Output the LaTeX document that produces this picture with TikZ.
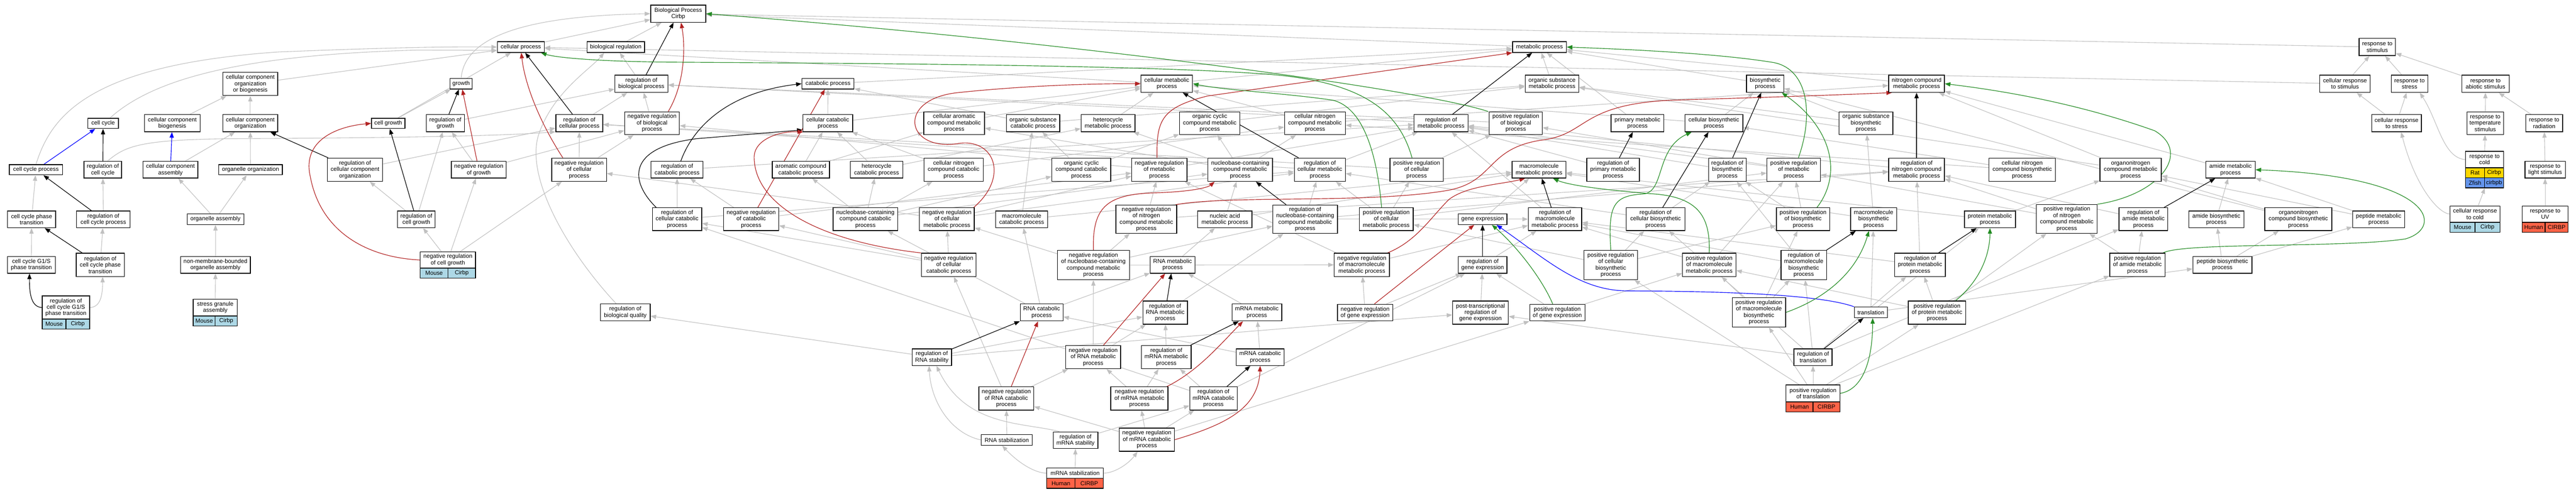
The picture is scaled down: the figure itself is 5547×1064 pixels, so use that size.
\documentclass[tikz,border=0pt]{standalone}
\usepackage{fontspec}
\setmainfont{Liberation Sans}
\usetikzlibrary{arrows.meta}
\definecolor{edgegray}{HTML}{C0C0C0}
\definecolor{goRed}{HTML}{B22222}
\definecolor{goGreen}{HTML}{228B22}
\definecolor{goBlue}{HTML}{0000FF}
\definecolor{annBlue}{HTML}{ADD8E6}
\definecolor{annRed}{HTML}{FF6347}
\definecolor{annGold}{HTML}{FFD700}
\definecolor{annCorn}{HTML}{6495ED}
\newcommand\gofont{\fontsize{12.5pt}{13.8pt}\selectfont}
\pgfdeclarelayer{edges}
\pgfsetlayers{edges,main}
\tikzset{
  gobox/.style={draw=black, line width=1.5pt, fill=white, align=center, inner sep=1pt, font=\gofont},
  annbox/.style={draw=black, line width=1.5pt, inner sep=1pt, font=\gofont, minimum height=21.5},
  isaE/.style={draw=edgegray, line width=1.2pt, -{Triangle[length=12pt,width=9pt]}},
  regE/.style={draw=black, line width=1.3pt, -{Triangle[length=12pt,width=9pt]}},
  nregE/.style={draw=goRed, line width=1.3pt, -{Triangle[length=12pt,width=9pt]}},
  pregE/.style={draw=goGreen, line width=1.3pt, -{Triangle[length=12pt,width=9pt]}},
  poE/.style={draw=goBlue, line width=1.3pt, -{Triangle[length=12pt,width=9pt]}},
}
\newcommand\gonode[6]{\node[gobox,minimum width=#4,minimum height=#5] (#1) at (#2,#3) {#6};}
\newcommand\goann[7]{%
  \node[annbox,fill=#5,minimum width={#4/2}] (#1l) at ({#2-#4/4},#3) {#6};
  \node[annbox,fill=#5,minimum width={#4/2}] (#1r) at ({#2+#4/4},#3) {#7};}
\newcommand\isaedge[2]{\draw[isaE] (#1) -- (#2);}
\newcommand\gedge[3]{\draw[#1] (#2) -- (#3);}
\begin{document}
\begin{tikzpicture}[x=1pt,y=-1pt]
\useasboundingbox (0,0) rectangle (5547,1064);
% ---------------- nodes ----------------
\gonode{BP}{1460.5}{29.5}{119}{37}{Biological Process\\Cirbp}
\gonode{cp}{1121.5}{101.5}{101}{23}{cellular process}
\gonode{br}{1326}{101.5}{124}{23}{biological regulation}
\gonode{mp}{3315}{101.5}{116}{23}{metabolic process}
\gonode{rs}{5119}{101.5}{78}{37}{response to\\stimulus}
% row 2
\gonode{ccob}{539}{181}{118}{50}{cellular component\\organization\\or biogenesis}
\gonode{gr}{993}{180.5}{48}{23}{growth}
\gonode{rbp}{1381}{180.5}{114}{37}{regulation of\\biological process}
\gonode{cat}{1783}{180.5}{112}{23}{catabolic process}
\gonode{cmp}{2512.5}{180.5}{111}{37}{cellular metabolic\\process}
\gonode{osmp}{3342}{180.5}{116}{37}{organic substance\\metabolic process}
\gonode{bio}{3801}{180.5}{80}{37}{biosynthetic\\process}
\gonode{ncmp}{4127}{180.5}{120}{37}{nitrogen compound\\metabolic process}
\gonode{crs}{5049.5}{180.5}{109}{37}{cellular response\\to stimulus}
\gonode{rst}{5188.5}{180.5}{79}{37}{response to\\stress}
\gonode{ras}{5352}{180.5}{102}{37}{response to\\abiotic stimulus}
% row 3
\gonode{cc}{222}{266}{66}{22}{cell cycle}
\gonode{ccb}{371}{265.5}{120}{37}{cellular component\\biogenesis}
\gonode{cco}{539}{265.5}{118}{37}{cellular component\\organization}
\gonode{cg}{836}{266}{72}{22}{cell growth}
\gonode{rg}{959}{265.5}{82}{37}{regulation of\\growth}
\gonode{rcp}{1247.5}{265.5}{101}{37}{regulation of\\cellular process}
\gonode{nrbp}{1404}{265.5}{118}{49}{negative regulation\\of biological\\process}
\gonode{ccat}{1782.5}{265.5}{107}{37}{cellular catabolic\\process}
\gonode{camp}{2054.5}{265.5}{131}{49}{cellular aromatic\\compound metabolic\\process}
\gonode{oscp}{2224.5}{265.5}{115}{37}{organic substance\\catabolic process}
\gonode{hmp}{2386}{265.5}{116}{37}{heterocycle\\metabolic process}
\gonode{occmp}{2605}{265.5}{130}{49}{organic cyclic\\compound metabolic\\process}
\gonode{cncmp}{2831.5}{265.5}{131}{49}{cellular nitrogen\\compound metabolic\\process}
\gonode{rmp}{3103}{265.5}{116}{37}{regulation of\\metabolic process}
\gonode{prbp}{3264}{265.5}{114}{49}{positive regulation\\of biological\\process}
\gonode{pmp}{3526}{265.5}{114}{37}{primary metabolic\\process}
\gonode{cbp}{3690.5}{265.5}{125}{37}{cellular biosynthetic\\process}
\gonode{osbp}{4018}{265.5}{116}{49}{organic substance\\biosynthetic\\process}
\gonode{crst}{5160.5}{265.5}{107}{37}{cellular response\\to stress}
\gonode{rts}{5351.5}{265.5}{79}{49}{response to\\temperature\\stimulus}
\gonode{rrad}{5478.5}{265.5}{79}{37}{response to\\radiation}
% row 4
\gonode{ccp}{77.5}{366}{115}{22}{cell cycle process}
\gonode{rcc}{221.5}{366}{81}{36}{regulation of\\cell cycle}
\gonode{cca}{367}{366}{118}{36}{cellular component\\assembly}
\gonode{oo}{539.5}{366}{137}{22}{organelle organization}
\gonode{rcco}{764.5}{366}{119}{50}{regulation of\\cellular component\\organization}
\gonode{nrg}{1031}{366}{118}{36}{negative regulation\\of growth}
\gonode{nrcp}{1247}{366}{118}{50}{negative regulation\\of cellular\\process}
\gonode{rcat}{1458}{366}{112}{36}{regulation of\\catabolic process}
\gonode{acat}{1724.5}{366}{123}{36}{aromatic compound\\catabolic process}
\gonode{hcat}{1887.5}{366}{113}{36}{heterocycle\\catabolic process}
\gonode{cnccat}{2053.5}{366}{127}{50}{cellular nitrogen\\compound catabolic\\process}
\gonode{occat}{2328.5}{366}{127}{50}{organic cyclic\\compound catabolic\\process}
\gonode{nrmp}{2496.5}{366}{119}{50}{negative regulation\\of metabolic\\process}
\gonode{nbcmp}{2670.5}{366}{139}{50}{nucleobase-containing\\compound metabolic\\process}
\gonode{rcmp}{2842}{366}{110}{50}{regulation of\\cellular metabolic\\process}
\gonode{prcp}{3050.5}{366}{115}{50}{positive regulation\\of cellular\\process}
\gonode{mmp}{3314}{366}{116}{36}{macromolecule\\metabolic process}
\gonode{rpmp}{3473.5}{366}{113}{50}{regulation of\\primary metabolic\\process}
\gonode{rbio}{3719.5}{366}{81}{50}{regulation of\\biosynthetic\\process}
\gonode{prmp}{3862.5}{366}{115}{50}{positive regulation\\of metabolic\\process}
\gonode{rncmp}{4127}{366}{120}{50}{regulation of\\nitrogen compound\\metabolic process}
\gonode{cncbp}{4354.5}{366}{143}{50}{cellular nitrogen\\compound biosynthetic\\process}
\gonode{oncmp}{4588}{366}{132}{50}{organonitrogen\\compound metabolic\\process}
\gonode{amp}{4803}{366}{106}{36}{amide metabolic\\process}
\gonode{rcold}{5350}{344}{82}{36}{response to\\cold}
\gonode{rls}{5480.5}{366}{87}{36}{response to\\light stimulus}
% row 5
\gonode{ccpt}{68}{473}{104}{36}{cell cycle phase\\transition}
\gonode{rccp}{222.5}{473}{115}{36}{regulation of\\cell cycle process}
\gonode{oa}{464}{472.5}{122}{23}{organelle assembly}
\gonode{rcgr}{896.5}{473}{81}{36}{regulation of\\cell growth}
\gonode{rccat}{1458}{472.5}{106}{49}{regulation of\\cellular catabolic\\process}
\gonode{nrcat}{1617.5}{472.5}{119}{49}{negative regulation\\of catabolic\\process}
\gonode{nbccat}{1863.5}{472.5}{139}{49}{nucleobase-containing\\compound catabolic\\process}
\gonode{nrcmp}{2039}{472.5}{118}{49}{negative regulation\\of cellular\\metabolic process}
\gonode{mcat}{2200}{473}{112}{36}{macromolecule\\catabolic process}
\gonode{nrncmp}{2468.5}{472.5}{131}{61}{negative regulation\\of nitrogen\\compound metabolic\\process}
\gonode{namp}{2637.5}{473}{117}{36}{nucleic acid\\metabolic process}
\gonode{rnbcmp}{2810.5}{472.5}{139}{61}{regulation of\\nucleobase-containing\\compound metabolic\\process}
\gonode{prcmp}{2985}{472.5}{116}{49}{positive regulation\\of cellular\\metabolic process}
\gonode{ge}{3192.5}{472.5}{105}{23}{gene expression}
\gonode{rmmp}{3348.5}{472.5}{115}{49}{regulation of\\macromolecule\\metabolic process}
\gonode{rcbp}{3565}{472.5}{126}{49}{regulation of\\cellular biosynthetic\\process}
\gonode{prbio}{3882.5}{472.5}{115}{49}{positive regulation\\of biosynthetic\\process}
\gonode{mbp}{4034.5}{472.5}{99}{49}{macromolecule\\biosynthetic\\process}
\gonode{prot}{4285}{473}{110}{36}{protein metabolic\\process}
\gonode{prncmp}{4450.5}{472}{131}{62}{positive regulation\\of nitrogen\\compound metabolic\\process}
\gonode{ramp}{4615.5}{472.5}{105}{49}{regulation of\\amide metabolic\\process}
\gonode{abp}{4772.5}{473}{119}{36}{amide biosynthetic\\process}
\gonode{oncbp}{4949}{472.5}{144}{49}{organonitrogen\\compound biosynthetic\\process}
\gonode{pepm}{5122}{473}{112}{36}{peptide metabolic\\process}
\gonode{crcold}{5329.5}{461.5}{107}{35}{cellular response\\to cold}
\gonode{ruv}{5480.5}{461.5}{99}{35}{response to\\UV}
% row 6
\gonode{g1s}{67.5}{571}{103}{36}{cell cycle G1/S\\phase transition}
\gonode{rccpt}{216}{571}{104}{50}{regulation of\\cell cycle phase\\transition}
\gonode{nmboa}{464}{571}{150}{36}{non-membrane-bounded\\organelle assembly}
\gonode{nrcg}{964.5}{560.5}{119}{35}{negative regulation\\of cell growth}
\gonode{nrccat}{2043}{571}{118}{50}{negative regulation\\of cellular\\catabolic process}
\gonode{nrnbc}{2354.5}{571.5}{155}{63}{negative regulation\\of nucleobase-containing\\compound metabolic\\process}
\gonode{rnamp}{2525}{571}{96}{36}{RNA metabolic\\process}
\gonode{nrmmp}{2932.5}{571}{119}{50}{negative regulation\\of macromolecule\\metabolic process}
\gonode{rge}{3192.5}{571}{105}{36}{regulation of\\gene expression}
\gonode{prcbp}{3468.5}{571.5}{115}{63}{positive regulation\\of cellular\\biosynthetic\\process}
\gonode{prmmp}{3680.5}{571}{115}{50}{positive regulation\\of macromolecule\\metabolic process}
\gonode{rmbp}{3884}{571.5}{98}{63}{regulation of\\macromolecule\\biosynthetic\\process}
\gonode{rpm}{4134.5}{571}{109}{50}{regulation of\\protein metabolic\\process}
\gonode{pramp}{4602.5}{571}{119}{50}{positive regulation\\of amide metabolic\\process}
\gonode{pepb}{4785.5}{571}{127}{36}{peptide biosynthetic\\process}
% row 7
\gonode{rg1s}{142}{663}{102}{50}{regulation of\\cell cycle G1/S\\phase transition}
\gonode{sga}{463.5}{663}{95}{36}{stress granule\\assembly}
\gonode{rbq}{1346.5}{673.5}{107}{37}{regulation of\\biological quality}
\gonode{rnacat}{2243}{673.5}{92}{37}{RNA catabolic\\process}
\gonode{rrnamp}{2509}{674}{96}{50}{regulation of\\RNA metabolic\\process}
\gonode{mrnamp}{2706.5}{673.5}{107}{37}{mRNA metabolic\\process}
\gonode{nrge}{2939.5}{674}{119}{36}{negative regulation\\of gene expression}
\gonode{ptr}{3188}{674}{120}{50}{post-transcriptional\\regulation of\\gene expression}
\gonode{prge}{3353.5}{674}{119}{36}{positive regulation\\of gene expression}
\gonode{prmbp}{3787.5}{673.5}{115}{63}{positive regulation\\of macromolecule\\biosynthetic\\process}
\gonode{tr}{4028.5}{673.5}{71}{23}{translation}
\gonode{prpm}{4171}{674}{124}{50}{positive regulation\\of protein metabolic\\process}
% row 8
\gonode{rrs}{2006.5}{770}{85}{36}{regulation of\\RNA stability}
\gonode{nrrnamp}{2354}{770}{118}{50}{negative regulation\\of RNA metabolic\\process}
\gonode{rmrnamp}{2511.5}{770}{107}{50}{regulation of\\mRNA metabolic\\process}
\gonode{mrnacat}{2713.5}{770}{103}{36}{mRNA catabolic\\process}
\gonode{rtr}{3904}{770}{82}{36}{regulation of\\translation}
% row 9
\gonode{nrrnacat}{2167}{859}{118}{50}{negative regulation\\of RNA catabolic\\process}
\gonode{nrmrnamp}{2453.5}{859}{123}{50}{negative regulation\\of mRNA metabolic\\process}
\gonode{rmrnacat}{2613}{859}{102}{50}{regulation of\\mRNA catabolic\\process}
\gonode{prtr}{3904}{848}{116}{36}{positive regulation\\of translation}
% row 10-11
\gonode{rnastab}{2168}{948.5}{110}{23}{RNA stabilization}
\gonode{rmrnas}{2316}{949}{96}{36}{regulation of\\mRNA stability}
\gonode{nrmrnacat}{2469.5}{948}{119}{50}{negative regulation\\of mRNA catabolic\\process}
\gonode{mrnastab}{2315}{1020}{122}{22}{mRNA stabilization}
% annotations
\goann{a1}{142}{698.5}{102}{annBlue}{Mouse}{Cirbp}
\goann{a2}{463.5}{692}{95}{annBlue}{Mouse}{Cirbp}
\goann{a3}{964.5}{589}{119}{annBlue}{Mouse}{Cirbp}
\goann{a4}{2315}{1042}{122}{annRed}{Human}{CIRBP}
\goann{a5}{3904}{877}{116}{annRed}{Human}{CIRBP}
\goann{a6}{5350}{372.5}{82}{annGold}{Rat}{Cirbp}
\goann{a7}{5350}{394}{82}{annCorn}{Zfish}{cirbpb}
\goann{a8}{5329.5}{490}{107}{annBlue}{Mouse}{Cirbp}
\goann{a9}{5480.5}{490}{99}{annRed}{Human}{CIRBP}
% ---------------- edges ----------------
\begin{pgfonlayer}{edges}
\fill[white] (0,0) rectangle (5547,1064);
% gray is_a, curved ones
\draw[isaE] ([xshift=15]cc.north) .. controls (330,170) and (520,118) .. (900,108) -- (cp.188);
\draw[isaE] (ccp.north) .. controls (110,250) and (190,140) .. (600,112) .. controls (800,104) and (950,100) .. (cp.west);
\draw[isaE] ([xshift=10]rcc.north) .. controls (270,315) and (300,301) .. (500,299) .. controls (900,297) and (1100,292) .. (rcp.200);
\draw[isaE] (rg1s.east) .. controls (215,662) and (221,640) .. ([xshift=5]rccpt.south);
\draw[isaE] (gr.north) .. controls (1000,90) and (1100,35) .. (BP.west);
\draw[isaE] ([xshift=-20]rbq.north) .. controls (1220,540) and (1130,380) .. (1160,290) .. controls (1190,200) and (1270,150) .. ([xshift=-25]br.south);
\draw[isaE] (rnastab.west) .. controls (2050,935) and (2005,870) .. ([xshift=-6]rrs.south);
\draw[isaE] ([xshift=-35]rmrnas.north) .. controls (2200,910) and (2080,920) .. ([xshift=10]rrs.south);
\draw[isaE] (mrnastab.west) .. controls (2230,1020) and (2195,1000) .. ([xshift=-10]rnastab.south);
\draw[isaE] (mrnastab.east) .. controls (2400,1020) and (2430,1000) .. ([xshift=-20]nrmrnacat.south);
\draw[isaE] (rcold.west) .. controls (5260,340) and (5250,260) .. ([xshift=22]rst.south);
\draw[isaE] (crcold.west) .. controls (5250,460) and (5200,400) .. ([xshift=10]crst.south);
\draw[isaE] (crcold) -- (a7l.south east);
% gray is_a, straight
\isaedge{ccob}{cp}\isaedge{ccb}{ccob}\isaedge{cco}{ccob}\isaedge{cca}{cco}\isaedge{oo}{cco}
\isaedge{rcco}{rcp}\isaedge{cg}{gr}\isaedge{cg}{cp}\isaedge{ccpt}{ccp}\isaedge{rccp}{rcc}
\isaedge{oa}{cca}\isaedge{oa}{oo}\isaedge{rcgr}{rcco}\isaedge{rcgr}{rg}\isaedge{nrcg}{rcgr}
\isaedge{nrcg}{nrg}\isaedge{nrcg}{nrcp}\isaedge{g1s}{ccpt}\isaedge{rccpt}{rccp}\isaedge{nmboa}{oa}
\isaedge{sga}{nmboa}\isaedge{cp}{BP}\isaedge{br}{BP}\isaedge{mp}{BP}\isaedge{rs}{BP}
\isaedge{rbp}{br}\isaedge{nrbp}{rbp}\isaedge{rcp}{rbp}\isaedge{nrcp}{rcp}\isaedge{nrcp}{nrbp}
\isaedge{rg}{rbp}\isaedge{nrg}{rg}\isaedge{nrg}{nrbp}\isaedge{rmp}{rbp}\isaedge{prbp}{rbp}
\isaedge{nrmp}{nrbp}\isaedge{rcmp}{rcp}\isaedge{prcp}{rcp}\isaedge{prcp}{prbp}\isaedge{cat}{mp}
\isaedge{ccat}{cat}\isaedge{ccat}{cmp}\isaedge{cmp}{mp}\isaedge{cmp}{cp}\isaedge{rcat}{rmp}
\isaedge{rccat}{rcat}\isaedge{rccat}{rcmp}\isaedge{nrcat}{rcat}\isaedge{nrcat}{nrmp}\isaedge{nrccat}{rccat}
\isaedge{nrccat}{nrcat}\isaedge{nrccat}{nrcmp}\isaedge{acat}{ccat}\isaedge{acat}{camp}\isaedge{nbccat}{acat}
\isaedge{nbccat}{hcat}\isaedge{nbccat}{cnccat}\isaedge{nbccat}{nbcmp}\isaedge{nbccat}{occat}\isaedge{camp}{cmp}
\isaedge{oscp}{cat}\isaedge{oscp}{osmp}\isaedge{hmp}{cmp}\isaedge{occmp}{osmp}\isaedge{hcat}{ccat}
\isaedge{hcat}{hmp}\isaedge{cnccat}{ccat}\isaedge{cnccat}{cncmp}\isaedge{occat}{oscp}\isaedge{occat}{occmp}
\isaedge{nrmp}{rmp}\isaedge{nbcmp}{hmp}\isaedge{nbcmp}{camp}\isaedge{nbcmp}{occmp}\isaedge{nbcmp}{cncmp}
\isaedge{nrcmp}{nrmp}\isaedge{nrcmp}{rcmp}\isaedge{nrcmp}{nrcp}\isaedge{mcat}{oscp}\isaedge{mcat}{mmp}
\isaedge{nrncmp}{nrmp}\isaedge{nrncmp}{rncmp}\isaedge{namp}{nbcmp}\isaedge{namp}{mmp}\isaedge{nrnbc}{nrncmp}
\isaedge{nrnbc}{nrcmp}\isaedge{nrnbc}{rnbcmp}\isaedge{nrnbc}{nrmmp}\isaedge{rnamp}{namp}\isaedge{rnacat}{rnamp}
\isaedge{rnacat}{mcat}\isaedge{rnacat}{nbccat}\isaedge{rrnamp}{rnbcmp}\isaedge{nrrnamp}{rrnamp}\isaedge{nrrnamp}{nrnbc}
\isaedge{rmrnamp}{rrnamp}\isaedge{nrmrnamp}{rmrnamp}\isaedge{nrmrnamp}{nrrnamp}\isaedge{rmrnacat}{rmrnamp}\isaedge{rmrnacat}{rge}
\isaedge{rmrnacat}{rccat}\isaedge{rrs}{rrnamp}\isaedge{rrs}{rbq}\isaedge{rrs}{ptr}\isaedge{nrrnacat}{nrrnamp}
\isaedge{nrrnacat}{nrccat}\isaedge{nrmrnacat}{nrmrnamp}\isaedge{nrmrnacat}{rmrnacat}\isaedge{nrmrnacat}{nrrnacat}\isaedge{nrmrnacat}{prge}
\isaedge{rnastab}{nrrnacat}\isaedge{rmrnas}{rmrnacat}\isaedge{mrnastab}{rmrnas}\isaedge{mrnamp}{rnamp}\isaedge{mrnacat}{mrnamp}
\isaedge{mrnacat}{rnacat}\isaedge{osmp}{mp}\isaedge{pmp}{mp}\isaedge{cncmp}{cmp}\isaedge{cncmp}{ncmp}
\isaedge{rcmp}{rmp}\isaedge{prcmp}{prcp}\isaedge{prcmp}{rcmp}\isaedge{prcmp}{prmp}\isaedge{ge}{mmp}
\isaedge{rmmp}{rmp}\isaedge{rpmp}{rmp}\isaedge{rnbcmp}{rcmp}\isaedge{rnbcmp}{rncmp}\isaedge{rnbcmp}{rmmp}
\isaedge{rcbp}{rbio}\isaedge{rcbp}{rcmp}\isaedge{nrmmp}{rmmp}\isaedge{nrmmp}{nrmp}\isaedge{nrge}{nrmmp}
\isaedge{nrge}{rge}\isaedge{rge}{rmmp}\isaedge{ptr}{rge}\isaedge{prge}{rge}\isaedge{prge}{prmmp}
\isaedge{prcbp}{rcbp}\isaedge{prcbp}{prcmp}\isaedge{prcbp}{prbio}\isaedge{bio}{mp}\isaedge{ncmp}{mp}
\isaedge{cbp}{bio}\isaedge{cbp}{cmp}\isaedge{osbp}{bio}\isaedge{osbp}{osmp}\isaedge{rbio}{rmp}
\isaedge{prmp}{rmp}\isaedge{prmp}{prbp}\isaedge{prbio}{rbio}\isaedge{prbio}{prmp}\isaedge{rncmp}{rmp}
\isaedge{cncbp}{cncmp}\isaedge{cncbp}{cbp}\isaedge{mbp}{osbp}\isaedge{mbp}{mmp}\isaedge{rmbp}{rbio}
\isaedge{rmbp}{rmmp}\isaedge{prmbp}{rmbp}\isaedge{prmbp}{prmmp}\isaedge{prmbp}{prbio}\isaedge{prmmp}{rmmp}
\isaedge{prmmp}{prmp}\isaedge{prot}{mmp}\isaedge{prot}{oncmp}\isaedge{rpm}{rmmp}\isaedge{rpm}{rncmp}
\isaedge{prpm}{rpm}\isaedge{prpm}{prmmp}\isaedge{prpm}{prncmp}\isaedge{tr}{pepb}\isaedge{tr}{mbp}
\isaedge{tr}{prot}\isaedge{rtr}{rmbp}\isaedge{rtr}{rcbp}\isaedge{rtr}{ptr}\isaedge{rtr}{rpm}
\isaedge{rtr}{ramp}\isaedge{prtr}{rtr}\isaedge{prtr}{prmbp}\isaedge{prtr}{prpm}\isaedge{prtr}{pramp}
\isaedge{prtr}{prcbp}\isaedge{prncmp}{rncmp}\isaedge{prncmp}{prmp}\isaedge{oncmp}{ncmp}\isaedge{oncmp}{osmp}
\isaedge{amp}{ncmp}\isaedge{ramp}{rncmp}\isaedge{abp}{amp}\isaedge{oncbp}{oncmp}\isaedge{oncbp}{bio}
\isaedge{pepm}{amp}\isaedge{pepm}{oncmp}\isaedge{pramp}{ramp}\isaedge{pramp}{prncmp}\isaedge{pepb}{pepm}
\isaedge{pepb}{abp}\isaedge{pepb}{oncbp}\isaedge{crs}{rs}\isaedge{crs}{cp}\isaedge{rst}{rs}
\isaedge{ras}{rs}\isaedge{crst}{crs}\isaedge{crst}{rst}\isaedge{rts}{ras}\isaedge{rrad}{ras}
\isaedge{rcold}{rts}\isaedge{rls}{rrad}\isaedge{ruv}{rls}
% part_of (blue)
\gedge{poE}{ccp}{cc}
\gedge{poE}{cca}{ccb}
\draw[poE] (tr.north west) .. controls (3900,628) and (3600,628) .. (3500,627) .. controls (3400,625) and (3330,560) .. ([xshift=30]ge.south);
% regulates (black)
\gedge{regE}{rcc}{cc}\gedge{regE}{rccp}{ccp}\gedge{regE}{rccpt}{ccpt}\gedge{regE}{rcco}{cco}
\gedge{regE}{rcgr}{cg}\gedge{regE}{rg}{gr}\gedge{regE}{rbp}{BP}\gedge{regE}{rcp}{cp}
\gedge{regE}{rmp}{mp}\gedge{regE}{rcmp}{cmp}\gedge{regE}{rnbcmp}{nbcmp}\gedge{regE}{rpmp}{pmp}
\gedge{regE}{rmmp}{mmp}\gedge{regE}{rcbp}{cbp}\gedge{regE}{rbio}{bio}\gedge{regE}{rncmp}{ncmp}
\gedge{regE}{rmbp}{mbp}\gedge{regE}{rpm}{prot}\gedge{regE}{ramp}{amp}\gedge{regE}{rtr}{tr}
\gedge{regE}{rge}{ge}\gedge{regE}{rrnamp}{rnamp}\gedge{regE}{rmrnamp}{mrnamp}\gedge{regE}{rmrnacat}{mrnacat}
\gedge{regE}{rrs}{rnacat}
\draw[regE] (rg1s.west) .. controls (70,662) and (63,640) .. ([xshift=-4]g1s.south);
\draw[regE] ([xshift=8]rcat.north) .. controls (1490,280) and (1560,200) .. (cat.west);
\draw[regE] ([xshift=-45]rccat.north) .. controls (1355,390) and (1350,318) .. (1500,299) -- (ccat.195);
% negatively regulates (red)
\gedge{nregE}{nrg}{gr}\gedge{nregE}{nrcat}{cat}\gedge{nregE}{nrrnamp}{rnamp}\gedge{nregE}{nrrnacat}{rnacat}
\draw[nregE] ([xshift=20]nrge.north) -- ([xshift=-18]ge.south);
\draw[nregE] ([xshift=-35]nrcp.north) .. controls (1160,260) and (1130,180) .. ([xshift=1]cp.south);
\draw[nregE] (nrcg.west) .. controls (790,555) and (690,500) .. (668,380) .. controls (650,300) and (730,272) .. (cg.west);
\draw[nregE] ([xshift=35]nrbp.north) .. controls (1475,180) and (1476,100) .. ([xshift=6]BP.south);
\draw[nregE] (nrccat.north west) .. controls (1760,520) and (1625,440) .. (1624,340) .. controls (1623,300) and (1680,282) .. (ccat.200);
\draw[nregE] ([xshift=-2]nrcmp.north east) .. controls (2175,380) and (2140,295) .. (2060,310) .. controls (1950,325) and (1930,215) .. (2060,200) .. controls (2200,185) and (2350,180) .. (cmp.west);
\draw[nregE] ([xshift=-5]nrmp.north) .. controls (2490,260) and (2500,232) .. (2600,207) -- (mp.south west);
\draw[nregE] ([xshift=-3]nrncmp.north east) .. controls (2650,420) and (2950,440) .. (3120,410) .. controls (3220,390) and (3200,320) .. (3320,302) .. controls (3420,290) and (3400,225) .. (3600,216) .. controls (3800,210) and (3950,205) .. (ncmp.200);
\draw[nregE] (nrnbc.north) .. controls (2352,450) and (2380,420) .. (2480,416) .. controls (2560,414) and (2600,405) .. ([xshift=-55]nbcmp.south);
\draw[nregE] ([xshift=-5]nrmmp.north east) .. controls (3050,520) and (3080,470) .. (3120,430) .. controls (3160,400) and (3230,398) .. ([xshift=-30]mmp.south);
\draw[nregE] ([xshift=-3]nrmrnamp.north east) .. controls (2580,800) and (2630,740) .. ([xshift=-30]mrnamp.south);
\draw[nregE] (nrmrnacat.east) .. controls (2640,915) and (2710,880) .. (mrnacat.south);
% positively regulates (green)
\draw[pregE] ([xshift=-2]prbp.north west) .. controls (3050,190) and (2300,90) .. (BP.east);
\draw[pregE] ([xshift=-10]prcp.north) .. controls (3010,230) and (2920,170) .. (2700,158) .. controls (2400,138) and (1700,136) .. (1450,134) .. controls (1300,133) and (1200,125) .. ([xshift=-8]cp.south east);
\draw[pregE] ([xshift=-10]prcmp.north) .. controls (2965,330) and (2935,232) .. (2870,216) .. controls (2760,200) and (2640,195) .. (cmp.east);
\draw[pregE] ([xshift=10]prmp.north) .. controls (3905,250) and (3895,150) .. (3820,135) .. controls (3700,115) and (3500,106) .. (mp.east);
\draw[pregE] ([xshift=30]prbio.north) .. controls (3965,380) and (3950,280) .. ([xshift=-5]bio.south east);
\draw[pregE] (prcbp.north) .. controls (3462,440) and (3475,422) .. (3540,418) .. controls (3585,412) and (3565,320) .. ([xshift=-48]cbp.south);
\draw[pregE] (prmmp.north) .. controls (3683,470) and (3660,425) .. (3560,418) .. controls (3460,410) and (3380,400) .. ([xshift=30]mmp.south);
\draw[pregE] ([xshift=-10]prge.north) .. controls (3320,600) and (3265,530) .. ([xshift=20]ge.south);
\draw[pregE] (prncmp.north east) .. controls (4650,420) and (4720,330) .. (4640,282) .. controls (4500,232) and (4350,200) .. (ncmp.east);
\draw[pregE] (prmbp.east) .. controls (3940,640) and (4000,580) .. ([xshift=-10]mbp.south);
\draw[pregE] ([xshift=40]prpm.north) .. controls (4270,600) and (4285,540) .. (prot.south);
\draw[pregE] (prtr.east) .. controls (4010,840) and (4032,780) .. ([xshift=4]tr.south);
\draw[pregE] ([xshift=-5]pramp.north east) .. controls (4700,522) and (5050,535) .. (5180,515) .. controls (5265,490) and (5240,380) .. (amp.east);
\end{pgfonlayer}
\end{tikzpicture}
\end{document}
